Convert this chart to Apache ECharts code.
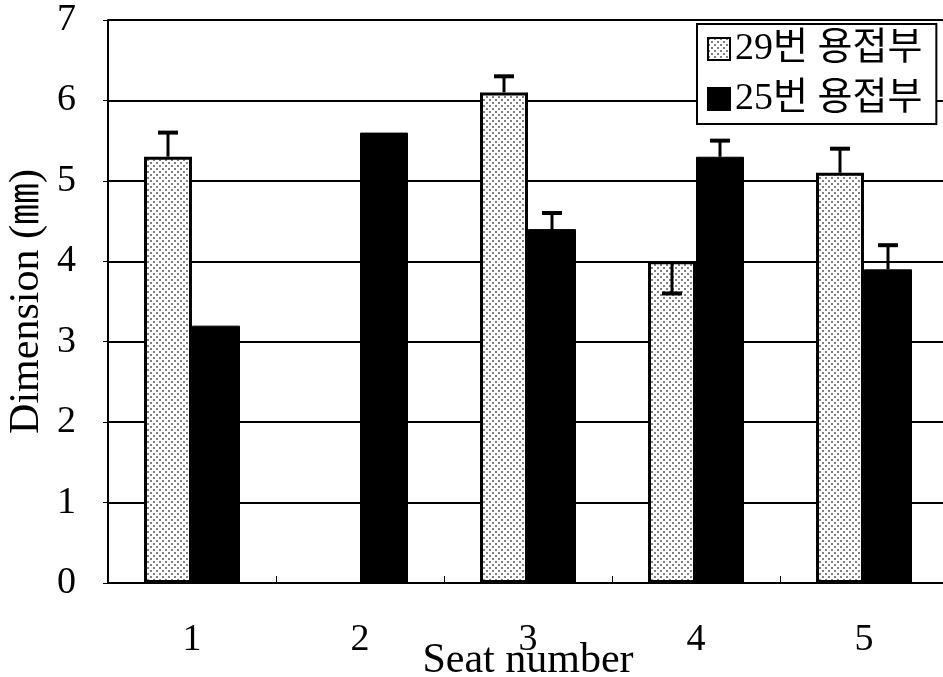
<!DOCTYPE html>
<html><head><meta charset="utf-8">
<script src="https://cdn.jsdelivr.net/npm/echarts@6/dist/echarts.min.js"></script>
<style>html,body{margin:0;padding:0;background:#fff}#c{width:943px;height:677px}</style>
</head><body><div id="c"></div>
<script>
const categories = ['1', '2', '3', '4', '5'];
const seriesNames = ['29번 용접부', '25번 용접부'];
const weld29 = [5.3, null, 6.1, 4.0, 5.1];
const weld25 = [3.2, 5.6, 4.4, 5.3, 3.9];
const err29 = [5.6, null, 6.3, 3.6, 5.4];
const err25 = [null, null, 4.6, 5.5, 4.2];
const yTicks = [0, 1, 2, 3, 4, 5, 6, 7];

const SERIF = '"Liberation Serif","DejaVu Serif","Noto Sans CJK KR",serif';

// dotted pattern fill
const pc = document.createElement('canvas');
pc.width = 6; pc.height = 6;
const pctx = pc.getContext('2d');
pctx.fillStyle = '#ffffff'; pctx.fillRect(0, 0, 6, 6);
pctx.fillStyle = '#808080';
pctx.fillRect(0, 0, 2, 2); pctx.fillRect(3, 3, 2, 2);
const pattern = { image: pc, repeat: 'repeat' };

const errData = [];
[weld29, weld25].forEach(function (vals, s) {
  const ends = s === 0 ? err29 : err25;
  vals.forEach(function (v, i) {
    if (v != null && ends[i] != null) errData.push([i, v, ends[i], s]);
  });
});

const chart = echarts.init(document.getElementById('c'));
chart.setOption({
  animation: false,
  backgroundColor: '#fff',
  grid: { left: 108, right: -5, top: 20, bottom: 94, outerBoundsMode: 'none', containLabel: false },
  legend: {
    orient: 'vertical', left: 697, top: 24,
    backgroundColor: '#fff', borderColor: '#000', borderWidth: 2,
    padding: [6, 14, 6, 10], itemGap: 12, itemWidth: 22, itemHeight: 22,
    icon: 'rect',
    textStyle: { fontFamily: SERIF, fontSize: 38, color: '#000' },
    data: seriesNames
  },
  xAxis: {
    type: 'category', data: categories,
    name: 'Seat number', nameLocation: 'middle', nameGap: 57, nameMoveOverlap: false,
    nameTextStyle: { fontFamily: SERIF, fontSize: 42, color: '#000' },
    axisLine: { lineStyle: { color: '#000', width: 2 } },
    axisTick: { show: true, inside: true, length: 7, lineStyle: { color: '#000' } },
    axisLabel: { fontFamily: SERIF, fontSize: 38, color: '#000', margin: 38 }
  },
  yAxis: {
    type: 'value', min: 0, max: 7, interval: 1,
    name: 'Dimension (㎜)', nameLocation: 'middle', nameGap: 60, nameRotate: 90, nameMoveOverlap: false,
    nameTextStyle: { fontFamily: SERIF, fontSize: 42, color: '#000' },
    axisLine: { show: true, lineStyle: { color: '#000', width: 2 } },
    axisTick: { show: true, length: 5, lineStyle: { color: '#000' } },
    splitLine: { lineStyle: { color: '#000', width: 2 } },
    axisLabel: { fontFamily: SERIF, fontSize: 38, color: '#000', margin: 32,
      formatter: function (v) { return yTicks.indexOf(v) >= 0 ? String(v) : ''; } }
  },
  series: [
    { name: seriesNames[0], type: 'bar', data: weld29, barWidth: 48, barGap: '0%',
      itemStyle: { color: pattern, borderColor: '#000', borderWidth: 3 } },
    { name: seriesNames[1], type: 'bar', data: weld25, barWidth: 48, barGap: '0%',
      itemStyle: { color: '#000', borderColor: '#000', borderWidth: 1 } },
    { type: 'custom', data: errData, z: 5,
      renderItem: function (params, api) {
        const i = api.value(0), s = api.value(3);
        const off = s === 0 ? -24 : 24;
        const p0 = api.coord([i, api.value(1)]);
        const p1 = api.coord([i, api.value(2)]);
        const x = p0[0] + off;
        return { type: 'group', children: [
          { type: 'line', shape: { x1: x, y1: p0[1], x2: x, y2: p1[1] }, style: { stroke: '#000', lineWidth: 3 } },
          { type: 'line', shape: { x1: x - 10, y1: p1[1], x2: x + 10, y2: p1[1] }, style: { stroke: '#000', lineWidth: 4 } }
        ] };
      } }
  ]
});
</script></body></html>
